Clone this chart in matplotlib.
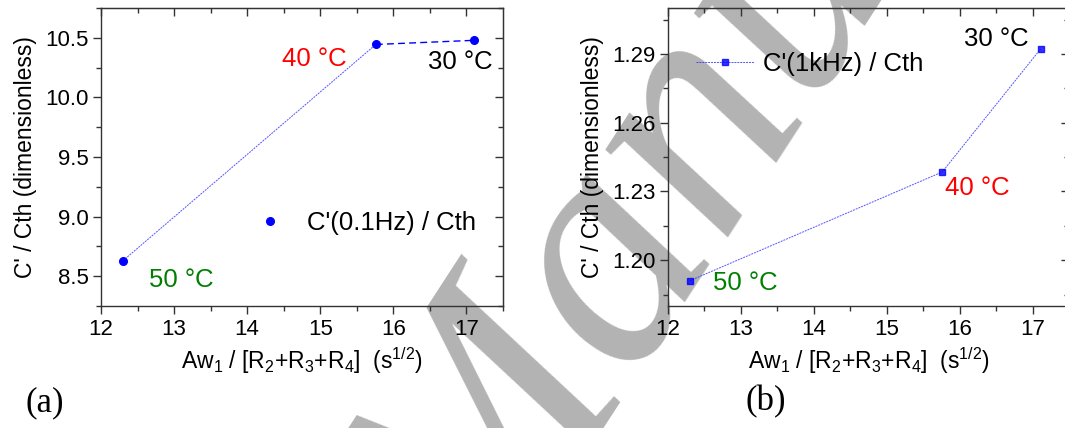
import matplotlib
matplotlib.use("Agg")
import matplotlib.pyplot as plt

plt.rcParams['font.family'] = ['Liberation Sans', 'DejaVu Sans']
plt.rcParams['mathtext.fontset'] = 'custom'
plt.rcParams['mathtext.rm'] = 'Liberation Sans'
plt.rcParams['mathtext.it'] = 'Liberation Sans:italic'

# data
x_vals = [12.3, 15.76, 17.11]
temps = ["50 °C", "40 °C", "30 °C"]
temp_colors = ["#008000", "#ff0000", "#000000"]
ratio_01hz = [8.63, 10.445, 10.48]
ratio_1khz = [1.191, 1.2385, 1.2923]

xlabel = r'Aw$_\mathregular{1}$ / [R$_\mathregular{2}$+R$_\mathregular{3}$+R$_\mathregular{4}$]  (s$^\mathregular{1/2}$)'
ylabel = "C' / Cth (dimensionless)"

fig = plt.figure(figsize=(10.65, 4.28), dpi=100)
fig.patch.set_facecolor("white")

# grey watermark behind everything
fig.text(0.4577, -0.435, "Manuscript", rotation=57, rotation_mode="anchor",
         ha="left", va="baseline", fontsize=235, color="#b3b3b3",
         family="Liberation Serif", style="italic", zorder=-5)

ax1 = fig.add_axes([0.0948, 0.285, 0.3775, 0.696])
ax2 = fig.add_axes([0.627, 0.285, 0.377, 0.696])


def style_axes(ax, yticks, yminor, ylim):
    ax.set_facecolor("none")
    ax.set_zorder(1)
    ax.set_xlim(12, 17.5)
    ax.set_ylim(*ylim)
    ax.set_xticks([12, 13, 14, 15, 16, 17])
    ax.set_xticks([12.5, 13.5, 14.5, 15.5, 16.5, 17.5], minor=True)
    ax.set_yticks(yticks)
    ax.set_yticks(yminor, minor=True)
    for s in ax.spines.values():
        s.set_color("#333333")
        s.set_linewidth(1.0)
    ax.tick_params(which="major", direction="out", length=6, width=1,
                   labelsize=16, color="#333333", pad=3)
    ax.tick_params(which="minor", direction="out", length=3.5, width=1,
                   color="#333333")
    # top / right ticks point inward
    top = ax.secondary_xaxis("top")
    top.set_xticks([12, 13, 14, 15, 16, 17])
    top.set_xticks([12.5, 13.5, 14.5, 15.5, 16.5], minor=True)
    top.tick_params(which="major", direction="in", length=6, width=1,
                    labeltop=False, color="#333333")
    top.tick_params(which="minor", direction="in", length=3.5, width=1,
                    color="#333333")
    top.spines["top"].set_color("#333333")
    right = ax.secondary_yaxis("right")
    right.set_yticks(yticks)
    right.set_yticks(yminor, minor=True)
    right.tick_params(which="major", direction="in", length=6, width=1,
                      labelright=False, color="#333333")
    right.tick_params(which="minor", direction="in", length=3.5, width=1,
                      color="#333333")
    right.spines["right"].set_color("#333333")
    ax.set_xlabel(xlabel, fontsize=16.5, labelpad=4)
    ax.set_ylabel(ylabel, fontsize=16.5, labelpad=6)


# (a) C'(0.1Hz) / Cth
style_axes(ax1, [8.5, 9.0, 9.5, 10.0, 10.5],
           [8.25, 8.75, 9.25, 9.75, 10.25, 10.75], (8.25, 10.75))
ax1.plot(x_vals[:2], ratio_01hz[:2], color="#2a2aff", lw=0.7,
         linestyle=(0, (2, 1)), alpha=0.8)
ax1.plot(x_vals[1:], ratio_01hz[1:], color="#0000ff", lw=1.0,
         linestyle=(0, (5, 3)))
ax1.plot(x_vals, ratio_01hz, linestyle="none", marker="o", ms=5.5,
         color="#0000ff", label="C'(0.1Hz) / Cth")
ax1.legend(loc="center left", bbox_to_anchor=(0.3475, 0.28), frameon=False,
           fontsize=18.5, handlelength=2.25, handletextpad=0.35,
           borderpad=0, borderaxespad=0)
ann_a = [(13.1, 8.47), (14.92, 10.32), (16.91, 10.30)]
for (tx, ty), t, c in zip(ann_a, temps, temp_colors):
    ax1.text(tx, ty, t, color=c, fontsize=18.5, ha="center", va="center")

# (b) C'(1kHz) / Cth
style_axes(ax2, [1.20, 1.23, 1.26, 1.29],
           [1.185, 1.215, 1.245, 1.275, 1.305], (1.18, 1.31))
ax2.plot(x_vals, ratio_1khz, color="#2a2aff", lw=0.7, linestyle=(0, (2, 1)),
         alpha=0.8, marker="s", ms=5, mfc="#0000ff", mec="#0000ff",
         label="C'(1kHz) / Cth")
ax2.legend(loc="center left", bbox_to_anchor=(0.0709, 0.811), frameon=False,
           fontsize=18.5, handlelength=2.25, handletextpad=0.35,
           borderpad=0, borderaxespad=0)
ann_b = [(13.06, 1.190), (16.24, 1.2315), (16.5, 1.2964)]
for (tx, ty), t, c in zip(ann_b, temps, temp_colors):
    ax2.text(tx, ty, t, color=c, fontsize=18.5, ha="center", va="center")

fig.text(45 / 1065, 1 - 403 / 428, "(a)", fontsize=25,
         family="Liberation Serif", ha="center", va="center")
fig.text(766 / 1065, 1 - 402 / 428, "(b)", fontsize=25,
         family="Liberation Serif", ha="center", va="center")

fig.savefig("out.png", dpi=100)
